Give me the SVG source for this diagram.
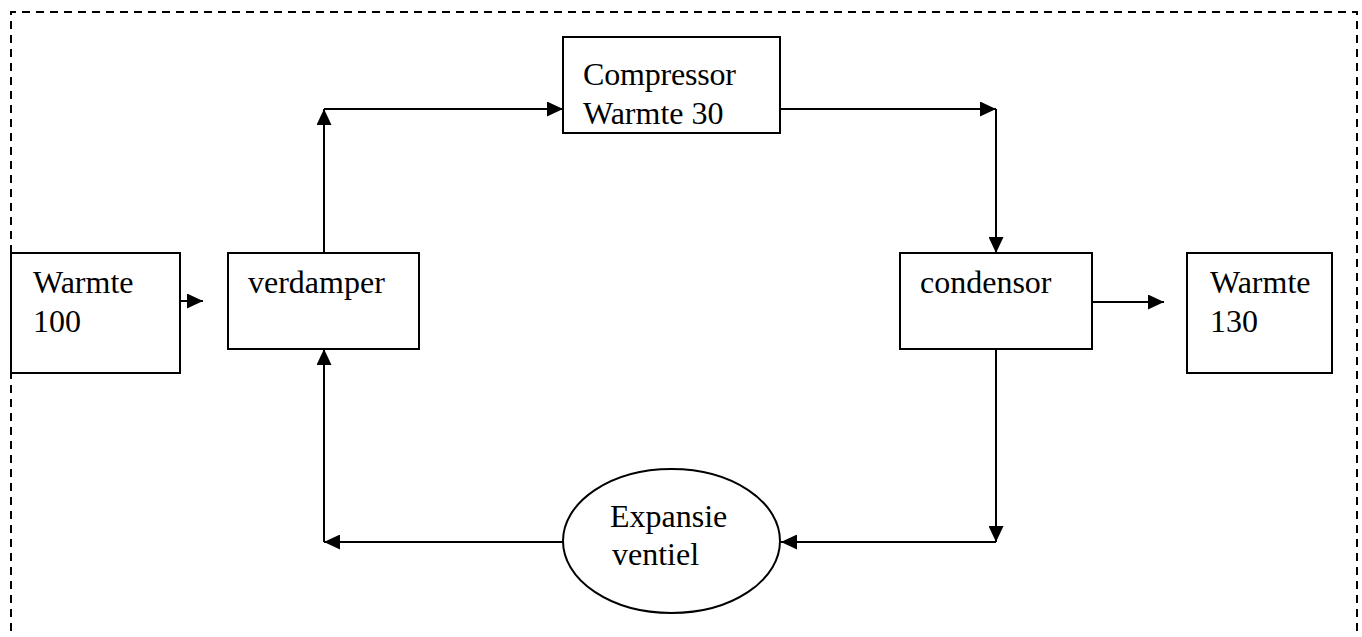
<svg xmlns="http://www.w3.org/2000/svg" width="1362" height="637" viewBox="0 0 1362 637">
  <style>
    .box { fill: #ffffff; stroke: #000000; stroke-width: 2; }
    .lbl { font-family: "Liberation Serif", "Times New Roman", serif; font-size: 32px; fill: #000000; }
    .con { fill: none; stroke: #000000; stroke-width: 2; marker-end: url(#arrow); }
    .frame { fill: none; stroke: #000000; stroke-width: 2; stroke-dasharray: 8 6; }
  </style>
  <defs>
    <marker id="arrow" markerUnits="userSpaceOnUse" markerWidth="16" markerHeight="15" refX="16" refY="7.5" orient="auto">
      <path d="M0,0 L16,7.5 L0,15 Z" fill="#000000"/>
    </marker>
  </defs>
  <rect x="0" y="0" width="1362" height="637" fill="#ffffff"/>
  <path class="frame" d="M11,645 V12 H1357 V645"/>

  <g id="connectors">
    <line class="con" x1="180" y1="301" x2="203" y2="301"/>
    <line class="con" x1="324" y1="253" x2="324" y2="109"/>
    <line class="con" x1="324" y1="109" x2="563" y2="109"/>
    <line class="con" x1="780" y1="109" x2="996" y2="109"/>
    <line class="con" x1="996" y1="109" x2="996" y2="253"/>
    <line class="con" x1="1092" y1="302" x2="1164" y2="302"/>
    <line class="con" x1="996" y1="349" x2="996" y2="542"/>
    <line class="con" x1="996" y1="542" x2="781" y2="542"/>
    <line class="con" x1="563" y1="542" x2="324" y2="542"/>
    <line class="con" x1="324" y1="542" x2="324" y2="349"/>
  </g>

  <g id="warmte100">
    <rect class="box" x="11" y="253" width="169" height="120"/>
    <text class="lbl" x="33" y="293">Warmte</text>
    <text class="lbl" x="33" y="332">100</text>
  </g>
  <g id="verdamper">
    <rect class="box" x="228" y="253" width="191" height="96"/>
    <text class="lbl" x="248" y="293">verdamper</text>
  </g>
  <g id="compressor">
    <rect class="box" x="563" y="37" width="217" height="96"/>
    <text class="lbl" x="583" y="85" textLength="153" lengthAdjust="spacing">Compressor</text>
    <text class="lbl" x="583" y="124">Warmte 30</text>
  </g>
  <g id="condensor">
    <rect class="box" x="900" y="253" width="192" height="96"/>
    <text class="lbl" x="920" y="293">condensor</text>
  </g>
  <g id="warmte130">
    <rect class="box" x="1187" y="253" width="145" height="120"/>
    <text class="lbl" x="1210" y="293">Warmte</text>
    <text class="lbl" x="1210" y="332">130</text>
  </g>
  <g id="expansieventiel">
    <ellipse class="box" cx="671.5" cy="541" rx="108.5" ry="72"/>
    <text class="lbl" x="610" y="527">Expansie</text>
    <text class="lbl" x="612" y="565">ventiel</text>
  </g>
</svg>
